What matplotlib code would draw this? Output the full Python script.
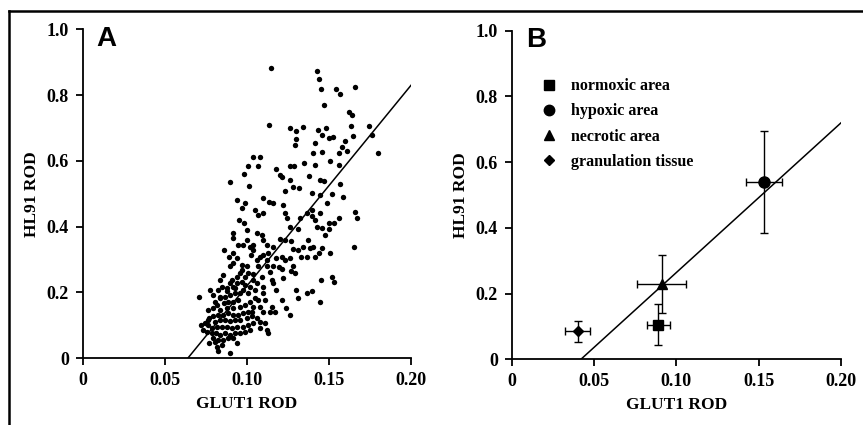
import matplotlib
matplotlib.use('Agg')
import matplotlib.pyplot as plt
from matplotlib.lines import Line2D

plt.rcParams['font.family'] = ['Liberation Serif', 'DejaVu Serif']
plt.rcParams['font.weight'] = 'bold'

glut1_a = [
    0.115, 0.1425, 0.1442, 0.145, 0.154, 0.157, 0.166, 0.147, 0.1137, 0.126, 0.130, 0.134,
    0.130, 0.1293, 0.162, 0.164, 0.1746, 0.1764, 0.180, 0.148, 0.1435, 0.146, 0.150, 0.1527,
    0.1632, 0.1648, 0.160, 0.158, 0.161, 0.1415, 0.140, 0.1455, 0.1415, 0.135, 0.1507, 0.156,
    0.156, 0.1567, 0.104, 0.108, 0.107, 0.1009, 0.0897, 0.098, 0.1015, 0.1176, 0.120, 0.1262,
    0.129, 0.1212, 0.1262, 0.123, 0.1283, 0.132, 0.138, 0.1395, 0.1445, 0.147, 0.1445, 0.1521,
    0.1486, 0.1588, 0.0938, 0.0988, 0.0972, 0.0914, 0.0918, 0.0955, 0.098, 0.100, 0.105, 0.1067,
    0.110, 0.110, 0.1137, 0.116, 0.1218, 0.123, 0.1243, 0.1263, 0.131, 0.1324, 0.1364, 0.1395,
    0.1395, 0.1415, 0.1445, 0.1425, 0.146, 0.150, 0.1476, 0.150, 0.153, 0.1563, 0.166, 0.167,
    0.165, 0.109, 0.112, 0.116, 0.120, 0.1232, 0.127, 0.128, 0.1313, 0.134, 0.1375, 0.1384,
    0.140, 0.1415, 0.144, 0.1455, 0.1506, 0.1364, 0.133, 0.128, 0.127, 0.1293, 0.126, 0.1212,
    0.1232, 0.118, 0.1198, 0.1212, 0.116, 0.112, 0.114, 0.1152, 0.116, 0.118, 0.1222, 0.130,
    0.131, 0.1364, 0.1395, 0.145, 0.1445, 0.152, 0.153, 0.1212, 0.1238, 0.126, 0.1152, 0.114,
    0.117, 0.113,
    0.104, 0.1025, 0.100, 0.0969, 0.0942, 0.0918, 0.089, 0.0863, 0.0958, 0.0988, 0.1009, 0.104,
    0.107, 0.109, 0.106, 0.104, 0.110, 0.110, 0.111, 0.107, 0.108, 0.110, 0.105, 0.1019,
    0.1009, 0.0988, 0.0969, 0.0938, 0.0918, 0.0897, 0.0877, 0.0847, 0.0826, 0.0776, 0.0711, 0.0796,
    0.0837, 0.0867, 0.0897, 0.0928, 0.0958, 0.0948, 0.0918, 0.0888, 0.0859, 0.0816, 0.0796, 0.0766,
    0.0837, 0.0877, 0.0918, 0.0958, 0.0988, 0.1019, 0.104, 0.1009, 0.0979, 0.0948, 0.0918, 0.0888,
    0.0857, 0.0826, 0.0796, 0.0772, 0.0806, 0.0837, 0.0867, 0.0897, 0.0928, 0.0958, 0.0999, 0.1029,
    0.106, 0.108, 0.104, 0.1009, 0.0979, 0.0942, 0.0908, 0.0877, 0.0847, 0.0816, 0.0786, 0.0766,
    0.0755, 0.0786, 0.0812, 0.0837, 0.0867, 0.0897, 0.0928, 0.0958, 0.0988, 0.1019, 0.0796, 0.0826,
    0.0857, 0.0888, 0.0918, 0.0816, 0.0826, 0.0897, 0.0938, 0.0847, 0.0766, 0.0745, 0.0735, 0.0723,
    0.112, 0.108, 0.111, 0.0837, 0.0857, 0.0907, 0.0938, 0.0969, 0.0897, 0.0918, 0.0837, 0.0806,
    0.0975, 0.105, 0.1029, 0.0928, 0.0877, 0.106, 0.108, 0.110, 0.112, 0.113, 0.104, 0.102,
    0.110, 0.100, 0.0975, 0.0948, 0.0772, 0.0806, 0.106,
]
hl91_a = [
    0.881, 0.873, 0.848, 0.818, 0.818, 0.803, 0.825, 0.769, 0.709, 0.701, 0.691, 0.704,
    0.666, 0.648, 0.748, 0.739, 0.706, 0.678, 0.623, 0.701, 0.694, 0.679, 0.669, 0.674,
    0.705, 0.676, 0.662, 0.643, 0.631, 0.653, 0.623, 0.628, 0.588, 0.593, 0.600, 0.623,
    0.588, 0.529, 0.611, 0.611, 0.583, 0.583, 0.537, 0.560, 0.525, 0.575, 0.557, 0.586,
    0.585, 0.552, 0.542, 0.507, 0.522, 0.517, 0.555, 0.501, 0.542, 0.539, 0.496, 0.498,
    0.471, 0.491, 0.481, 0.471, 0.456, 0.380, 0.365, 0.420, 0.412, 0.390, 0.452, 0.437,
    0.486, 0.441, 0.476, 0.471, 0.466, 0.441, 0.425, 0.400, 0.393, 0.425, 0.441, 0.451,
    0.431, 0.421, 0.441, 0.400, 0.395, 0.410, 0.375, 0.392, 0.410, 0.425, 0.446, 0.425,
    0.339, 0.375, 0.344, 0.339, 0.362, 0.359, 0.355, 0.331, 0.329, 0.339, 0.359, 0.334,
    0.339, 0.309, 0.319, 0.334, 0.319, 0.309, 0.309, 0.279, 0.264, 0.258, 0.304, 0.309,
    0.299, 0.304, 0.276, 0.271, 0.279, 0.279, 0.263, 0.238, 0.228, 0.208, 0.243, 0.208,
    0.182, 0.198, 0.206, 0.238, 0.172, 0.248, 0.233, 0.177, 0.152, 0.132, 0.157, 0.142,
    0.142, 0.076,
    0.329, 0.314, 0.281, 0.284, 0.304, 0.319, 0.309, 0.329, 0.258, 0.248, 0.258, 0.256,
    0.279, 0.248, 0.228, 0.238, 0.218, 0.198, 0.177, 0.177, 0.157, 0.142, 0.208, 0.218,
    0.198, 0.223, 0.233, 0.228, 0.218, 0.228, 0.213, 0.218, 0.208, 0.208, 0.187, 0.192,
    0.182, 0.187, 0.192, 0.198, 0.198, 0.177, 0.172, 0.172, 0.167, 0.162, 0.152, 0.147,
    0.147, 0.152, 0.152, 0.157, 0.162, 0.172, 0.157, 0.142, 0.137, 0.132, 0.132, 0.137,
    0.132, 0.132, 0.127, 0.122, 0.111, 0.117, 0.117, 0.114, 0.117, 0.117, 0.122, 0.127,
    0.122, 0.111, 0.106, 0.101, 0.096, 0.096, 0.091, 0.096, 0.096, 0.096, 0.091, 0.101,
    0.081, 0.076, 0.076, 0.071, 0.076, 0.071, 0.076, 0.076, 0.081, 0.086, 0.061, 0.056,
    0.056, 0.061, 0.061, 0.035, 0.023, 0.017, 0.046, 0.041, 0.117, 0.106, 0.086, 0.101,
    0.086, 0.091, 0.106, 0.238, 0.253, 0.238, 0.248, 0.269, 0.279, 0.289, 0.187, 0.172,
    0.208, 0.182, 0.142, 0.213, 0.203, 0.299, 0.309, 0.314, 0.299, 0.319, 0.344, 0.339,
    0.360, 0.360, 0.344, 0.344, 0.046, 0.050, 0.380,
]
fit_a_x = [0.064, 0.20]
fit_a_y = [0.0, 0.83]

# panel B: group means with SD
groups = ['normoxic area', 'hypoxic area', 'necrotic area', 'granulation tissue']
markers = ['s', 'o', '^', 'D']
glut1_b = [0.089, 0.153, 0.091, 0.040]
glut1_b_err = [0.007, 0.011, 0.015, 0.0075]
hl91_b = [0.105, 0.540, 0.230, 0.085]
hl91_b_err = [0.062, 0.155, 0.088, 0.031]
fit_b_x = [0.042, 0.20]
fit_b_y = [0.0, 0.72]

xticks = [0, 0.05, 0.10, 0.15, 0.20]
xticklabels = ['0', '0.05', '0.10', '0.15', '0.20']
yticks = [0, 0.2, 0.4, 0.6, 0.8, 1.0]
yticklabels = ['0', '0.2', '0.4', '0.6', '0.8', '1.0']

fig = plt.figure(figsize=(8.63, 4.25), dpi=100)
axA = fig.add_axes([0.0958, 0.157, 0.3805, 0.774])
axB = fig.add_axes([0.593, 0.1546, 0.3816, 0.773])


def style(ax, letter):
    ax.set_xlim(0, 0.20)
    ax.set_ylim(0, 1.0)
    ax.set_xticks(xticks)
    ax.set_xticklabels(xticklabels)
    ax.set_yticks(yticks)
    ax.set_yticklabels(yticklabels)
    for s in ['top', 'right']:
        ax.spines[s].set_visible(False)
    for s in ['left', 'bottom']:
        ax.spines[s].set_linewidth(1.3)
    ax.tick_params(direction='out', length=5, width=1.3, labelsize=13, pad=5)
    ax.set_xlabel('GLUT1 ROD', fontsize=12.5, fontweight='bold', labelpad=5)
    ax.set_ylabel('HL91 ROD', fontsize=12.5, fontweight='bold', labelpad=5)
    ax.text(0.043, 1.01, letter, transform=ax.transAxes, fontsize=20,
            fontweight='bold', family=['Liberation Sans', 'DejaVu Sans'],
            ha='left', va='top')


style(axA, 'A')
axA.scatter(glut1_a, hl91_a, s=15, c='black', linewidths=0, clip_on=False)
axA.plot(fit_a_x, fit_a_y, color='black', lw=1.1)

style(axB, 'B')
axB.plot(fit_b_x, fit_b_y, color='black', lw=1.1)
msizes = [7, 8, 7, 5.5]
handles = []
for i in range(len(groups)):
    axB.errorbar(glut1_b[i], hl91_b[i], xerr=glut1_b_err[i], yerr=hl91_b_err[i],
                 fmt=markers[i], color='black', ms=msizes[i], elinewidth=1,
                 capsize=3, capthick=1)
    handles.append(Line2D([], [], marker=markers[i], ls='none', color='black',
                          ms=msizes[i] - 0.5))
axB.legend(handles, groups, loc='upper left', bbox_to_anchor=(0.065, 0.875),
           frameon=False, fontsize=11.5, handletextpad=0.8, labelspacing=0.58,
           handlelength=1.2, borderaxespad=0)

# outer frame (top and left edges)
fig.add_artist(Line2D([9 / 863, 1.0], [1 - 10.5 / 425, 1 - 10.5 / 425],
                      transform=fig.transFigure, color='black', lw=1.8))
fig.add_artist(Line2D([9 / 863, 9 / 863], [0, 1 - 10.5 / 425],
                      transform=fig.transFigure, color='black', lw=1.8))

fig.savefig('out.png', dpi=100)
